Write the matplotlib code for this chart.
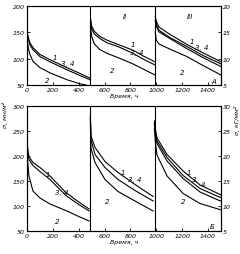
import matplotlib
matplotlib.use('Agg')
import matplotlib.pyplot as plt

plt.rcParams['font.family'] = 'DejaVu Sans'
plt.rcParams['font.size'] = 5

# ---- top panel (A), stress in MN/m^2 ----
a_t1 = [0, 10, 23, 46, 100, 178, 309, 400, 487]
a_1_1 = [152, 140, 130, 121, 108, 98, 83, 73, 63]
a_34_1 = [150, 137, 126, 117, 104, 94, 79, 69, 60]
a_2_1 = [140, 120, 108, 95, 83, 73, 60, 53, 48]

a_t2 = [492, 500, 520, 565, 620, 704, 820, 900, 990]
a_1_2 = [175, 162, 152, 142, 135, 127, 116, 105, 94]
a_34_2 = [170, 157, 147, 138, 130, 123, 110, 99, 88]
a_2_2 = [160, 142, 128, 117, 110, 102, 90, 80, 69]

a_t3 = [992, 1000, 1020, 1106, 1237, 1361, 1500]
a_1_3 = [180, 171, 160, 146, 127, 111, 94]
a_3_3 = [175, 165, 154, 140, 123, 106, 90]
a_4_3 = [172, 162, 151, 138, 119, 102, 85]
a_2_3 = [150, 135, 128, 118, 104, 87, 69]

# ---- bottom panel (Б) ----
b_t1 = [0, 5, 15, 46, 100, 178, 300, 400, 480]
b_1_1 = [240, 215, 199, 187, 177, 160, 127, 108, 94]
b_34_1 = [235, 210, 193, 181, 169, 153, 121, 103, 90]
b_2_1 = [230, 190, 160, 130, 116, 104, 91, 79, 70]

b_t2 = [490, 495, 526, 603, 704, 835, 975]
b_1_2 = [280, 240, 217, 189, 167, 143, 119]
b_34_2 = [275, 232, 203, 177, 153, 131, 110]
b_2_2 = [265, 215, 187, 153, 129, 110, 90]

b_t3 = [985, 992, 1005, 1083, 1207, 1338, 1477, 1500]
b_1_3 = [270, 255, 236, 203, 170, 142, 125, 122]
b_3_3 = [265, 250, 230, 197, 161, 135, 119, 117]
b_4_3 = [262, 245, 225, 190, 155, 128, 112, 110]
b_2_3 = [255, 230, 202, 160, 125, 105, 94, 92]

xticks = [0, 200, 400, 600, 800, 1000, 1200, 1400]
dividers = [490, 990]

fig = plt.figure(figsize=(2.4, 2.55), dpi=100)
ax_a = fig.add_axes([0.1125, 0.6627, 0.8083, 0.3098])
ax_b = fig.add_axes([0.1125, 0.0902, 0.8083, 0.4902])

lw = 0.8
a_curves = [
    (a_t1, [a_1_1, a_34_1, a_2_1]),
    (a_t2, [a_1_2, a_34_2, a_2_2]),
    (a_t3, [a_1_3, a_3_3, a_4_3, a_2_3]),
]
b_curves = [
    (b_t1, [b_1_1, b_34_1, b_2_1]),
    (b_t2, [b_1_2, b_34_2, b_2_2]),
    (b_t3, [b_1_3, b_3_3, b_4_3, b_2_3]),
]

def style(ax, ylim, yticks, rticks, curves):
    for t, ys in curves:
        for y in ys:
            ax.plot(t, y, color='black', lw=lw, clip_on=True)
    for d in dividers:
        ax.axvline(d, color='black', lw=0.8)
    ax.set_xlim(0, 1500)
    ax.set_ylim(*ylim)
    ax.set_xticks(xticks)
    ax.set_xticklabels([str(v) for v in xticks], fontstyle='italic', fontsize=4.5)
    ax.set_yticks(yticks)
    ax.set_yticklabels([str(v) for v in yticks], fontstyle='italic', fontsize=4.5)
    ax.tick_params(direction='in', length=2, width=0.6, pad=1.5)
    for s in ax.spines.values():
        s.set_linewidth(0.8)
    axr = ax.twinx()
    axr.set_ylim(ylim[0] / 10, ylim[1] / 10)
    axr.set_yticks(rticks)
    axr.set_yticklabels([str(v) for v in rticks], fontstyle='italic', fontsize=4.5)
    axr.tick_params(direction='in', length=2, width=0.6, pad=1.5)
    ax.set_xlabel('Время, ч', fontstyle='italic', fontsize=4.5, labelpad=1)
    return axr

style(ax_a, (50, 200), [50, 100, 150, 200], [5, 10, 15, 20], a_curves)
style(ax_b, (50, 300), [50, 100, 150, 200, 250, 300], [5, 10, 15, 20, 25, 30], b_curves)

kw = dict(fontsize=5, fontstyle='italic', ha='center', va='center')
for ax, items in [
    (ax_a, [(217, 104, '1'), (317, 92, '3, 4'), (155, 60, '2'),
            (657, 79, '2'), (820, 127, '1'), (851, 113, '3, 4'),
            (1276, 133, '1'), (1353, 123, '3, 4'), (1199, 75, '2'),
            (1446, 58, 'А'), (758, 181, 'II'), (1261, 181, 'III')]),
    (ax_b, [(162, 163, '1'), (271, 127, '3, 4'), (232, 70, '2'),
            (742, 167, '1'), (835, 153, '3, 4'), (619, 110, '2'),
            (1253, 167, '1'), (1292, 153, '3'), (1361, 143, '4'),
            (1207, 110, '2'), (1431, 60, 'Б')]),
]:
    for x, y, s in items:
        ax.text(x, y, s, **kw)

fig.text(5 / 240, 1 - 115 / 255, 'σ, мн/м²', rotation=90, ha='center', va='center',
         fontsize=4.5, fontstyle='italic')
fig.text(236.5 / 240, 1 - 120 / 255, 'σ, кГ/мм²', rotation=90, ha='center', va='center',
         fontsize=4.5, fontstyle='italic')

fig.savefig('out.png', dpi=100)
